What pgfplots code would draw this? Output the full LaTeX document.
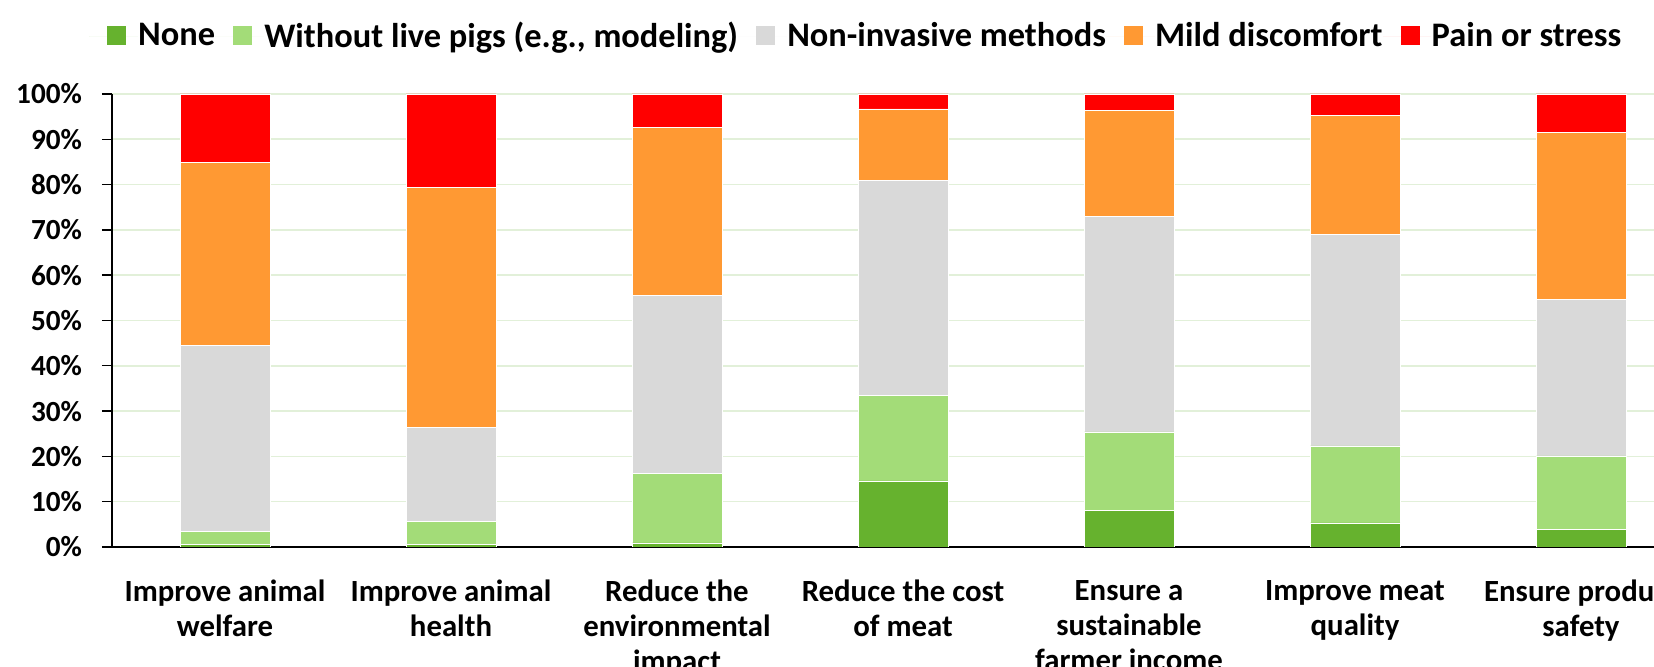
\documentclass[border=0pt]{standalone}
\usepackage{fontspec}
\setmainfont{Carlito}
\usepackage{pgfplots}
\usepackage{pgfplotstable}
\pgfplotsset{compat=1.18}

\definecolor{cnone}{HTML}{66B22E}
\definecolor{cwithout}{HTML}{A3DC78}
\definecolor{cnoninv}{HTML}{D9D9D9}
\definecolor{cmild}{HTML}{FF9933}
\definecolor{cpain}{HTML}{FF0000}
\definecolor{cgrid}{HTML}{E2F0D9}

% share of answers (%) per purpose
\pgfplotstableread{
x none without noninv mild pain
0 0.5  3.0 41.0 40.4 15.1
1 0.5  5.2 20.7 52.9 20.7
2 0.9 15.4 39.3 37.0  7.4
3 14.6 18.8 47.5 15.8 3.3
4 8.0 17.4 47.6 23.3  3.7
5 5.3 17.0 46.7 26.2  4.8
6 3.8 16.3 34.5 36.9  8.5
}\data

\begin{document}
\begin{tikzpicture}
\useasboundingbox (0pt,0pt) rectangle (827pt,333.5pt);
\clip (0pt,0pt) rectangle (827pt,333.5pt);
\begin{axis}[
    at={(56pt,60pt)}, anchor=south west,
    scale only axis,
    width=791pt, height=226.5pt,
    ybar stacked,
    bar width=45pt,
    xmin=-0.5, xmax=6.5,
    ymin=0, ymax=100,
    xtick={0,...,6},
    xticklabels={{Improve animal\\welfare},{Improve animal\\health},{Reduce the\\environmental\\impact},{Reduce the cost\\of meat},{Ensure a\\sustainable\\farmer income},{Improve meat\\quality},{Ensure product\\safety}},
    xticklabel style={font=\fontsize{15.4}{17.5}\selectfont\bfseries, align=center, anchor=north, yshift=-8pt},
    x tick style={draw=none},
    ytick={0,10,...,100},
    yticklabel={\pgfmathprintnumber{\tick}\%},
    yticklabel style={font=\fontsize{14.6}{16}\selectfont\bfseries, xshift=-6.5pt},
    /pgf/number format/assume math mode=true,
    y tick style={black, line width=0.7pt},
    tick align=outside,
    major tick length=5pt,
    axis x line*=bottom,
    axis y line*=left,
    axis line style={black, line width=0.8pt},
    ymajorgrids=true,
    grid style={cgrid, line width=0.8pt},
    legend columns=5,
    legend style={draw=none, fill=none, at={(axis description cs:-0.0148,1.128)}, anchor=west,
        font=\fontsize{17.2}{19}\selectfont\bfseries, inner sep=0pt,
        nodes={inner xsep=0pt}, column sep=0pt},
    legend image code/.code={%
        \path (0pt,0pt) rectangle (24.3pt,0pt);
        \fill[#1,draw=none] (9pt,-4.75pt) rectangle (18.5pt,4.75pt);},
    every axis plot/.append style={draw=white, line width=0.3pt},
]
\addplot[fill=cnone] table[x=x,y=none] {\data};
\addlegendentry{None}
\addplot[fill=cwithout] table[x=x,y=without] {\data};
\addlegendentry{Without live pigs (e.g., modeling)}
\addplot[fill=cnoninv] table[x=x,y=noninv] {\data};
\addlegendentry{Non-invasive methods}
\addplot[fill=cmild] table[x=x,y=mild] {\data};
\addlegendentry{Mild discomfort}
\addplot[fill=cpain] table[x=x,y=pain] {\data};
\addlegendentry{Pain or stress}
\end{axis}
\end{tikzpicture}
\end{document}
